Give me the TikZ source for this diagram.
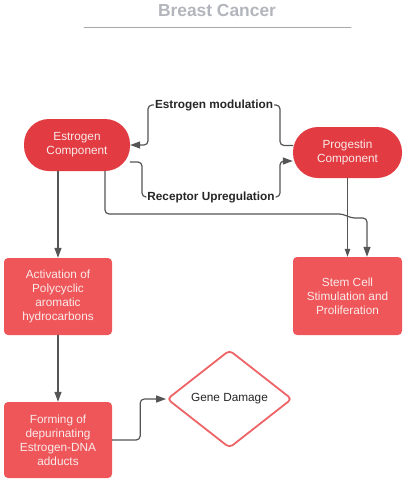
\documentclass[tikz,border=0pt]{standalone}
\usepackage{fontspec}
\setmainfont{Liberation Sans}
\usepackage{xcolor}
\usetikzlibrary{arrows.meta,shapes.geometric}
\definecolor{rosso}{RGB}{226,59,65}
\definecolor{rossochiaro}{RGB}{239,86,89}
\definecolor{bordo}{RGB}{238,100,102}
\definecolor{grigio}{RGB}{85,85,85}
\definecolor{titolo}{RGB}{178,182,188}
\definecolor{riga}{RGB}{168,168,168}
\definecolor{testo}{RGB}{250,234,234}

\begin{document}
\begin{tikzpicture}[x=1pt, y=-1pt, >={Triangle[length=10pt,width=7pt]}, line cap=round, line join=round,
    font=\fontsize{11.8}{14}\selectfont,
    comp/.style={fill=rosso, text=testo, rounded corners=25pt, align=center, inner sep=0pt},
    blocco/.style={fill=rossochiaro, text=testo, rounded corners=4pt, align=center,
        minimum width=108pt, inner sep=0pt},
    freccia/.style={->, draw=grigio, line width=1.2pt, rounded corners=4pt},
    etich/.style={fill=white, font=\fontsize{11.8}{14}\selectfont\bfseries, inner sep=1pt, text=black!85}]

\useasboundingbox (0,0) rectangle (410,482);

% Titolo
\node[font=\fontsize{17.4}{20}\selectfont\bfseries, text=titolo] (tit) at (217,10.5) {Breast Cancer};
\draw[riga, line width=1pt] (84,27) -- (351,27);

% Componenti
\node[comp, minimum width=106pt, minimum height=52pt] (estr) at (77,145) {Estrogen\\Component};
\node[comp, minimum width=109pt, minimum height=51pt] (prog) at (347.5,152.5) {Progestin\\Component};

% Blocchi
\node[blocco, minimum height=77pt] (act) at (58,296.5) {Activation of\\Polycyclic\\aromatic\\hydrocarbons};
\node[blocco, minimum width=109pt, minimum height=78pt] (stem) at (347.5,296) {Stem Cell\\Stimulation and\\Proliferation};
\node[blocco, minimum height=76pt] (form) at (58,440) {Forming of\\depurinating\\Estrogen-DNA\\adducts};

% Rombo
\node[diamond, draw=bordo, line width=1.8pt, fill=white, minimum width=125pt, minimum height=98pt,
    inner sep=0pt, rounded corners=4pt, text=black!85] (gene) at (229.5,399) {Gene Damage};

% Punti di passaggio
\coordinate (modR) at (280,105);
\coordinate (modL) at (148,105);
\coordinate (upL) at (142,197);
\coordinate (upR) at (280,197);
\coordinate (giro1) at (343,214);
\coordinate (giro2) at (351,218);

% Frecce tra le componenti
\draw[freccia] ([yshift=7pt]prog.west) -| (modR) -- node[etich] {Estrogen modulation} (modL) |- (estr.east);
\draw[freccia] ([yshift=-17pt]estr.east) -| (upL) -- node[etich] {Receptor Upregulation} (upR) |- ([yshift=-8.5pt]prog.west);

% Frecce verso i blocchi
\draw[freccia] (act.north |- estr.south) -- (act.north);
\draw[freccia] ([xshift=28pt]estr.south) |- (giro1) -- (giro2) -| ([xshift=19.5pt]stem.north);
\draw[freccia, line width=1pt, >={Triangle[length=8pt,width=5.5pt]}] (prog.south) -- (stem.north);
\draw[freccia] (act.south) -- (form.north);
\draw[freccia] (form.east) -- ++(28,0) |- (gene.west);

\end{tikzpicture}
\end{document}
